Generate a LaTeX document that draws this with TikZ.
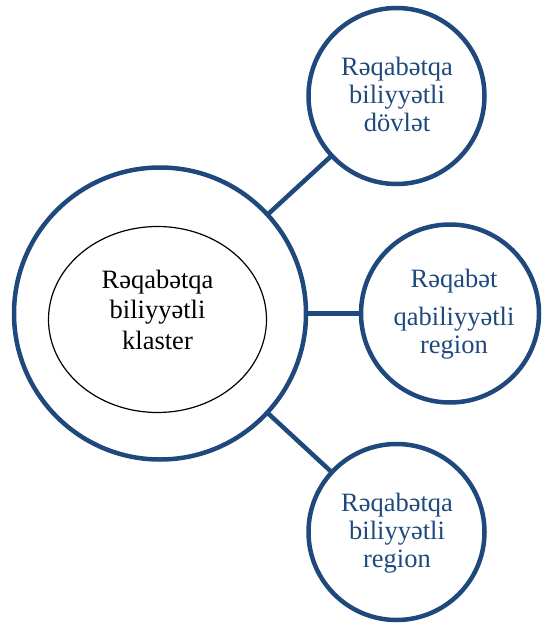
\documentclass[tikz,border=0pt]{standalone}
\usepackage{fontspec}
\setmainfont{Liberation Serif}
\usetikzlibrary{shapes.geometric}
\definecolor{dblue}{HTML}{1F497D}
\begin{document}
\begin{tikzpicture}[x=1pt,y=-1pt,
 ring/.style={circle,draw=dblue,line width=4.5pt,inner sep=0pt,outer sep=0pt},
 link/.style={draw=dblue,line width=4.5pt},
 btxt/.style={text=dblue,align=center,font=\fontsize{26.5}{28}\selectfont,inner sep=0pt},
 ktxt/.style={text=black,align=center,font=\fontsize{26.5}{30.5}\selectfont,inner sep=0pt}]
\useasboundingbox (0,0) rectangle (544,626);
\node[ring,minimum size=292pt] (big) at (160,313.5) {};
\node[ellipse,draw=black,line width=1.2pt,minimum width=218pt,minimum height=186pt,inner sep=0pt] (clu) at (157.5,319.5) {};
\node[ring,minimum size=176pt] (top) at (396.5,96) {};
\node[ring,minimum size=178pt] (mid) at (450,313.5) {};
\node[ring,minimum size=176pt] (bot) at (396.5,532) {};
\draw[link] (big) -- (top);
\draw[link] (big) -- (mid);
\draw[link] (big) -- (bot);
\node[ktxt] (t0) at (157.5,309.5) {Rəqabətqa\\biliyyətli\\klaster};
\node[btxt] (t1) at (397,94.8) {Rəqabətqa\\biliyyətli\\dövlət};
\node[btxt] (t2) at (454,314.5) {Rəqabət\\[10pt]qabiliyyətli\\region};
\node[btxt] (t3) at (397,533) {Rəqabətqa\\biliyyətli\\region};
\end{tikzpicture}
\end{document}
